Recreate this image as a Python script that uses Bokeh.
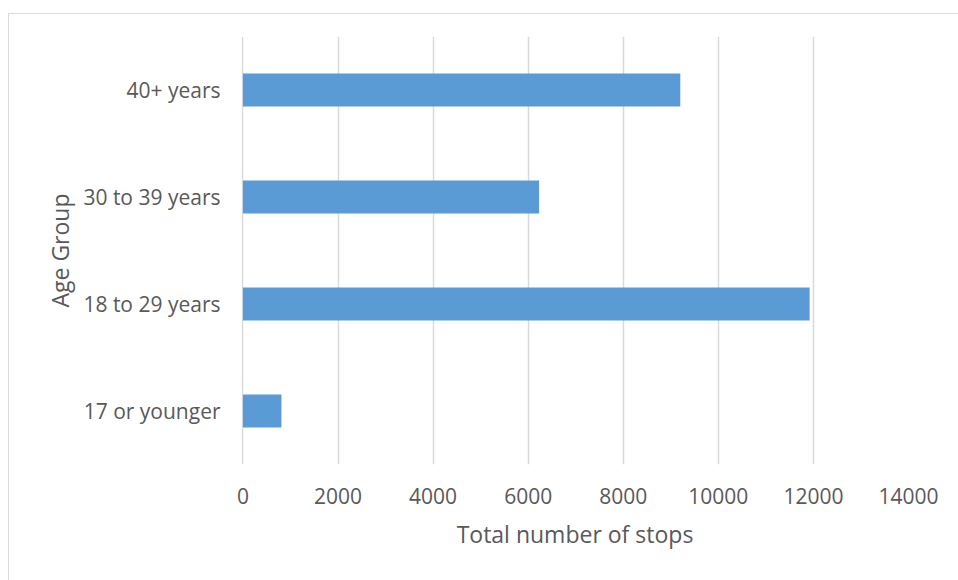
from bokeh.plotting import figure
from bokeh.models import ColumnDataSource, FactorRange, Range1d, FixedTicker
from bokeh.embed import file_html
from bokeh.resources import INLINE

# Stops by age group
age_groups = ["17 or younger", "18 to 29 years", "30 to 39 years", "40+ years"]
stops = [810, 11920, 6230, 9200]
x_ticks = [0, 2000, 4000, 6000, 8000, 10000, 12000, 14000]

FONT = "Open Sans"
TEXT = "#595959"
GRID = "#d9d9d9"
BAR = "#5b9bd5"

source = ColumnDataSource(data=dict(group=age_groups, stops=stops))

p = figure(
    width=950, height=567,
    y_range=FactorRange(*age_groups, range_padding=0),
    # small negative start keeps the zero grid line inside the frame
    x_range=Range1d(-30, 14000),
    output_backend="svg", toolbar_location=None, tools="",
    min_border_left=232, min_border_right=51,
    min_border_top=22, min_border_bottom=117,
)
p.margin = (13, 0, 0, 8)
p.styles = {"border-left": "1px solid #d9d9d9", "border-top": "1px solid #d9d9d9"}

p.hbar(y="group", right="stops", height=0.31, source=source,
       fill_color=BAR, line_color=None)

p.outline_line_color = None
p.background_fill_color = "white"
p.border_fill_color = "white"

p.ygrid.grid_line_color = None
p.xgrid.grid_line_color = GRID
p.xgrid.grid_line_width = 1.5
p.xaxis.ticker = FixedTicker(ticks=x_ticks)

for ax in (p.xaxis[0], p.yaxis[0]):
    ax.axis_line_color = None
    ax.major_tick_line_color = None
    ax.minor_tick_line_color = None
    ax.major_label_text_font = FONT
    ax.major_label_text_color = TEXT
    ax.major_label_text_font_size = "21px"
    ax.axis_label_text_font = FONT
    ax.axis_label_text_color = TEXT
    ax.axis_label_text_font_size = "23px"
    ax.axis_label_text_font_style = "normal"

p.xaxis.axis_label = "Total number of stops"
p.yaxis.axis_label = "Age Group"
p.xaxis.major_label_standoff = 17
p.yaxis.major_label_standoff = 15
p.xaxis.axis_label_standoff = 11
p.yaxis.axis_label_standoff = 4

open("out.html", "w").write(file_html(p, INLINE))
